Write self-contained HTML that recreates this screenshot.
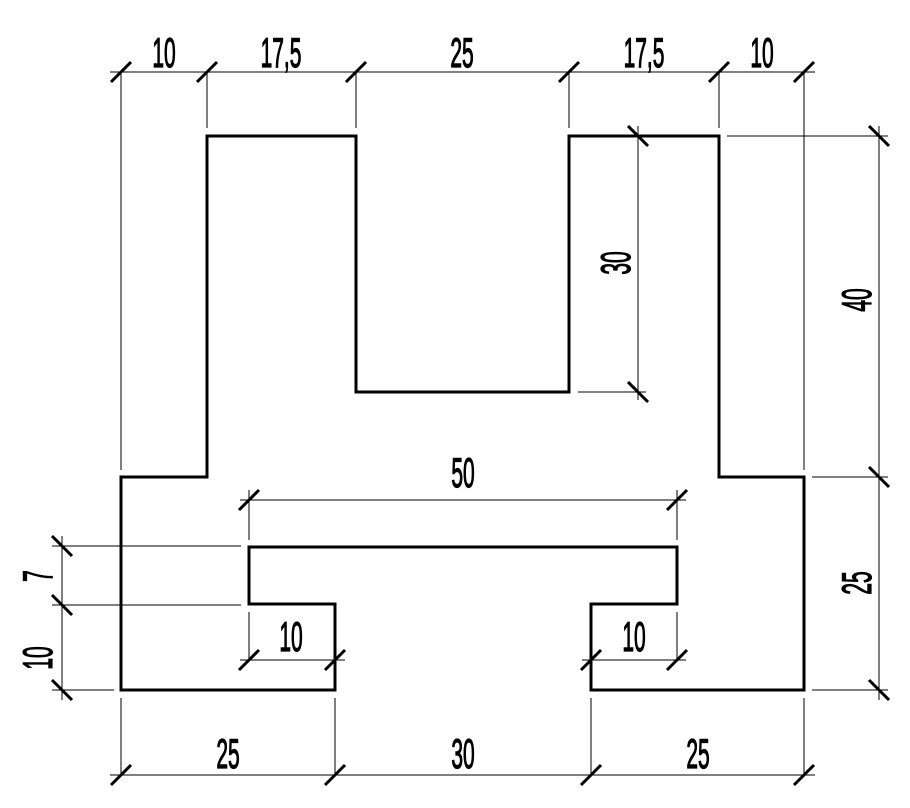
<!DOCTYPE html>
<html><head><meta charset="utf-8"><style>html,body{margin:0;padding:0;background:#fff}svg{display:block}</style></head>
<body>
<svg width="910" height="808" viewBox="0 0 910 808" xmlns="http://www.w3.org/2000/svg">
<g fill="none" stroke="#000">
<path stroke-width="3" d="M121,477 H207 V136 H356 V392 H569 V136 H719 V477 H804 V690 H591 V604 H677 V547 H249 V604 H335 V690 H121 Z"/>
<g stroke-width="1">
<line x1="110" y1="72" x2="815" y2="72"/>
<line x1="121" y1="72" x2="121" y2="470"/>
<line x1="207" y1="72" x2="207" y2="128"/>
<line x1="356" y1="72" x2="356" y2="128"/>
<line x1="569" y1="72" x2="569" y2="128"/>
<line x1="719" y1="72" x2="719" y2="128"/>
<line x1="804" y1="72" x2="804" y2="470"/>
<line x1="727" y1="136" x2="888" y2="136"/>
<line x1="812" y1="477" x2="888" y2="477"/>
<line x1="812" y1="690" x2="888" y2="690"/>
<line x1="879" y1="126" x2="879" y2="700"/>
<line x1="638" y1="126" x2="638" y2="400"/>
<line x1="578" y1="392" x2="646" y2="392"/>
<line x1="110" y1="775" x2="815" y2="775"/>
<line x1="121" y1="698" x2="121" y2="775"/>
<line x1="335" y1="698" x2="335" y2="775"/>
<line x1="591" y1="698" x2="591" y2="775"/>
<line x1="804" y1="698" x2="804" y2="775"/>
<line x1="52" y1="546" x2="241" y2="546"/>
<line x1="52" y1="605" x2="241" y2="605"/>
<line x1="52" y1="690" x2="114" y2="690"/>
<line x1="62" y1="536" x2="62" y2="700"/>
<line x1="240" y1="500" x2="686" y2="500"/>
<line x1="249" y1="490" x2="249" y2="540"/>
<line x1="677" y1="490" x2="677" y2="540"/>
<line x1="249" y1="612" x2="249" y2="660"/>
<line x1="240" y1="660" x2="345" y2="660"/>
<line x1="677" y1="612" x2="677" y2="660"/>
<line x1="582" y1="660" x2="686" y2="660"/>
</g>
<g stroke-width="3">
<path d="M111,82 l20,-20 M197,82 l20,-20 M346,82 l20,-20 M559,82 l20,-20 M709,82 l20,-20 M794,82 l20,-20"/>
<path d="M111,785 l20,-20 M325,785 l20,-20 M581,785 l20,-20 M794,785 l20,-20"/>
<path d="M239,510 l20,-20 M667,510 l20,-20 M239,670 l20,-20 M325,670 l20,-20 M581,670 l20,-20 M667,670 l20,-20"/>
<path d="M869,126 l20,20 M869,467 l20,20 M869,680 l20,20 M628,126 l20,20 M628,382 l20,20"/>
<path d="M52,536 l20,20 M52,595 l20,20 M52,680 l20,20"/>
</g>
</g>
<g font-family="Liberation Sans, sans-serif" font-size="42" fill="#000" stroke="#000" stroke-width="1.2" text-anchor="middle">
<text transform="translate(164,67) scale(0.5,1)">10</text>
<text transform="translate(281,67) scale(0.5,1)">17,5</text>
<text transform="translate(462,67) scale(0.5,1)">25</text>
<text transform="translate(644,67) scale(0.5,1)">17,5</text>
<text transform="translate(762,67) scale(0.5,1)">10</text>
<text transform="translate(228,768) scale(0.5,1)">25</text>
<text transform="translate(463,768) scale(0.5,1)">30</text>
<text transform="translate(698,768) scale(0.5,1)">25</text>
<text transform="translate(463,487) scale(0.5,1)">50</text>
<text transform="translate(291,651) scale(0.5,1)">10</text>
<text transform="translate(634,651) scale(0.5,1)">10</text>
<text transform="translate(630,263) rotate(-90) scale(0.5,1)">30</text>
<text transform="translate(871,300) rotate(-90) scale(0.5,1)">40</text>
<text transform="translate(871,583) rotate(-90) scale(0.5,1)">25</text>
<text transform="translate(52,576) rotate(-90) scale(0.5,1)">7</text>
<text transform="translate(52,658) rotate(-90) scale(0.5,1)">10</text>
</g>
</svg>
</body></html>
